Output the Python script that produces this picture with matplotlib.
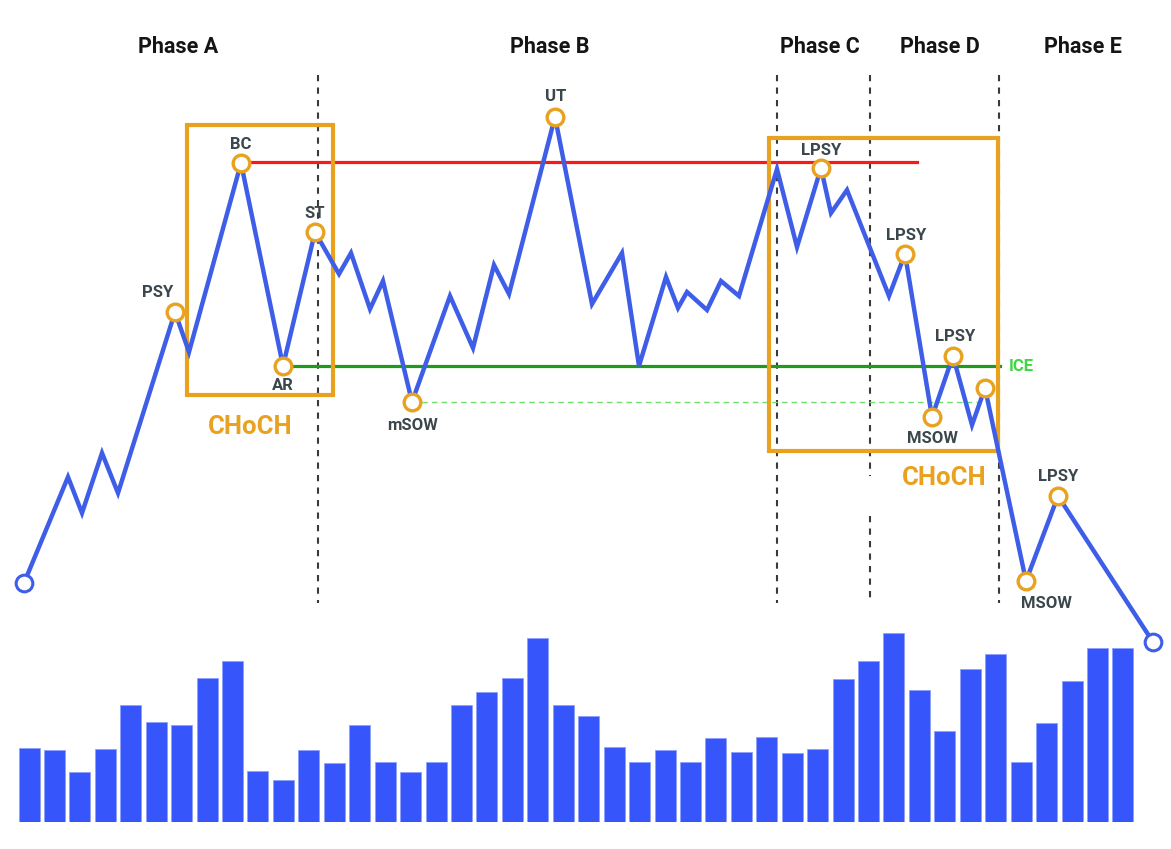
import numpy as np
import matplotlib
matplotlib.use("Agg")
import matplotlib.pyplot as plt
from matplotlib.patches import Rectangle

W, H = 1171, 849

# ---------------- data ----------------
# price path: time position (x) and price level (higher = up)
price_x = [24, 68, 82, 102, 118, 175, 189, 241, 283, 315, 339, 351, 370, 383,
           412, 450, 473, 494, 509, 555, 592, 622, 639, 666, 678, 687, 707, 721,
           739, 777, 797, 821, 831, 847, 889, 905, 932, 953, 972, 985, 1026, 1058, 1153]
price_y = [583, 477, 513, 453, 493, 312, 352, 163, 366, 232, 274, 253, 309, 281,
           402, 296, 348, 265, 294, 117, 304, 253, 366, 277, 308, 292, 310, 281,
           296, 169, 247, 168, 213, 190, 296, 254, 417, 356, 425, 388, 581, 496, 642]
price = [H - v for v in price_y]

# labelled events: (index in price path, label, label dx, label dy)
event_idx = [5, 7, 8, 9, 14, 19, 31, 35, 36, 37, 39, 40, 41]
event_labels = ["PSY", "BC", "AR", "ST", "mSOW", "UT", "LPSY", "LPSY", "MSOW",
                "LPSY", "", "MSOW", "LPSY"]
label_offsets = [(-17, 20), (0, 19), (0, -19), (0, 19), (1, -23), (1, 21),
                 (0, 18), (1, 19), (0, -21), (2, 20), (0, 0), (20, -22), (0, 20)]

# volume bars
volume = [74, 72, 50, 73, 117, 100, 97, 144, 161, 51, 42, 72, 59, 97, 60, 50,
          60, 117, 130, 144, 184, 117, 106, 75, 60, 72, 60, 84, 70, 85, 69, 73,
          143, 161, 189, 132, 91, 153, 168, 60, 99, 141, 174, 174]

phases = ["Phase A", "Phase B", "Phase C", "Phase D", "Phase E"]
phase_label_x = [178, 550, 820, 940, 1083]
phase_dividers = [318, 777, 870, 999]

resistance_level = H - 162
support_level = H - 366
msow_level = H - 402

# ---------------- style ----------------
BLUE = "#3f5ee8"
BAR = "#3656fb"
ORANGE = "#e8a21f"
RED = "#f51b1b"
GREEN = "#1f9a1a"
ICE_GREEN = "#3fd63f"
TXT = "#3b474c"

plt.rcParams['font.family'] = ['Roboto', 'DejaVu Sans']

fig = plt.figure(figsize=(W / 100, H / 100), dpi=100)
ax = fig.add_axes([0, 0, 1, 1])
ax.set_xlim(0, W)
ax.set_ylim(0, H)
ax.axis("off")

# volume axes at the bottom
vax = fig.add_axes([0, 27 / H, 1, 250 / H])
vax.set_xlim(0, W)
vax.set_ylim(0, 250)
vax.axis("off")
bar_x = 29 + np.arange(len(volume)) * 25.44
vax.bar(bar_x, volume, width=21, color=BAR, edgecolor="#8ea0ff", linewidth=0.6)

# phase dividers
for i, x in enumerate(phase_dividers):
    if i == 2:
        ax.plot([x, x], [H - 75, H - 476], color="#3a3a3a", lw=1.5, ls=(0, (3, 3)))
        ax.plot([x, x], [H - 516, H - 603], color="#3a3a3a", lw=1.5, ls=(0, (3, 3)))
    else:
        ax.plot([x, x], [H - 75, H - 603], color="#3a3a3a", lw=1.5, ls=(0, (3, 3)))

# phase titles
for name, x in zip(phases, phase_label_x):
    ax.text(x, H - 47, name, ha="center", va="center", fontsize=15.5,
            fontweight="bold", color="#151515")

# resistance / support lines
ax.plot([price_x[7], 917], [resistance_level, resistance_level], color=RED, lw=2.3, zorder=2)
ax.plot([price_x[8], 1000], [support_level, support_level], color=GREEN, lw=2.3, zorder=2)
ax.plot([price_x[14], 990], [msow_level, msow_level], color="#6ee06e", lw=1.0,
        ls=(0, (4, 3)), zorder=2)
ax.text(1009, support_level, "ICE", ha="left", va="center", fontsize=12,
        fontweight="bold", color=ICE_GREEN)

# CHoCH boxes
ax.add_patch(Rectangle((187, H - 395), 333 - 187, 395 - 125, fill=False,
                       edgecolor=ORANGE, lw=3, zorder=3))
ax.add_patch(Rectangle((769, H - 451), 998 - 769, 451 - 138, fill=False,
                       edgecolor=ORANGE, lw=3, zorder=3))
ax.text(250, H - 427, "CHoCH", ha="center", va="center", fontsize=18.5,
        fontweight="bold", color=ORANGE)
ax.text(944, H - 478, "CHoCH", ha="center", va="center", fontsize=18.5,
        fontweight="bold", color=ORANGE)

# price path
ax.plot(price_x, price, color=BLUE, lw=3.2, solid_joinstyle="miter", zorder=4)
ax.plot([price_x[0], price_x[-1]], [price[0], price[-1]], ls="none", marker="o",
        ms=12, mfc="white", mec=BLUE, mew=2.2, zorder=5)

# events
for idx, lab, (dx, dy) in zip(event_idx, event_labels, label_offsets):
    ax.plot(price_x[idx], price[idx], ls="none", marker="o", ms=12, mfc="white",
            mec=ORANGE, mew=2.4, zorder=6)
    if lab:
        ax.text(price_x[idx] + dx, price[idx] + dy, lab, ha="center", va="center",
                fontsize=12, fontweight="bold", color=TXT, zorder=7)

fig.savefig("out.png", dpi=100, facecolor="white")
